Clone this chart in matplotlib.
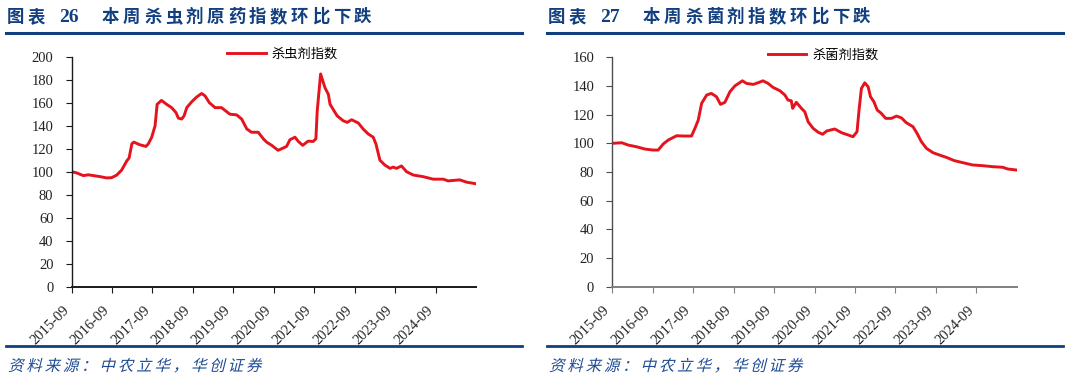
import matplotlib
matplotlib.use("Agg")
from matplotlib import pyplot as plt
from matplotlib.font_manager import FontProperties
from matplotlib.lines import Line2D
from matplotlib.patches import PathPatch
from matplotlib.textpath import TextPath
from matplotlib.transforms import Affine2D, IdentityTransform

W, H = 1066, 382

# months since 2015-09
ins_month = [0, 1.5, 3.5, 5.0, 6.5, 8.5, 10.4, 11.9, 13.4, 14.9,
             16.4, 17.1, 17.9, 18.5, 20.3, 22.1, 22.8, 23.8, 24.8, 25.4,
             26.7, 28.2, 29.7, 31.0, 31.7, 32.7, 33.4, 34.2, 35.6, 37.1,
             38.6, 39.6, 40.9, 42.6, 44.5, 47.0, 49.0, 50.5, 52.0, 53.4,
             55.4, 56.9, 57.9, 59.4, 61.3, 62.8, 63.8, 64.8, 66.3, 67.3,
             68.6, 70.2, 71.7, 72.5, 72.9, 73.9, 75.2, 76.2, 76.7, 77.6,
             78.8, 80.6, 81.8, 83.1, 85.1, 86.5, 88.0, 89.5, 90.3, 91.5,
             93.0, 94.5, 95.4, 96.4, 97.9, 99.4, 101.4, 104.3, 107.3, 110.3,
             111.7, 115.2, 117.2, 120.0]
ins_value = [100, 99, 96.6, 97.3, 96.6, 95.7, 94.6, 94.8, 97, 101.5,
             109.4, 112, 124.3, 125.7, 123.4, 122, 124.3, 130, 140, 158.6,
             162, 158.6, 155.7, 151.4, 146.6, 145.8, 148.6, 155.7, 160.6, 164.9,
             168, 166, 160, 155.7, 155.7, 150, 149.4, 145.7, 137.2, 134.3,
             134.3, 128.6, 125.7, 122.9, 118.6, 120.6, 122, 127.8, 130, 126.3,
             122.9, 126.6, 126.3, 128.6, 152.9, 185, 173, 167.3, 158.6, 154.3,
             148.6, 144.3, 142.9, 145.2, 142.3, 137.2, 132.9, 130, 124.3, 110,
             105.7, 102.9, 104, 102.9, 105, 100, 97.1, 95.7, 93.5, 93.5,
             92, 92.9, 90.9, 89.5]

fun_month = [0, 2.8, 4.7, 7.2, 9.7, 12.1, 13.6, 15.1, 16.6, 19.1,
             21.0, 23.5, 24.5, 25.5, 26.5, 28.0, 29.4, 30.9, 32.1, 33.4,
             34.9, 36.4, 38.6, 39.8, 41.8, 43.3, 44.7, 46.2, 47.7, 49.7,
             51.2, 52.1, 53.1, 53.5, 54.6, 56.1, 57.1, 58.1, 59.6, 61.1,
             62.4, 63.6, 66.0, 68.0, 70.0, 71.4, 72.6, 73.2, 73.9, 74.9,
             75.9, 76.6, 77.6, 78.6, 79.8, 81.1, 82.8, 84.3, 85.8, 87.2,
             89.2, 90.4, 91.7, 93.2, 95.1, 97.1, 99.1, 101.5, 104.0, 106.9,
             109.9, 112.9, 115.8, 117.3, 119.8]
fun_value = [100, 100.4, 98.8, 97.6, 96, 95.3, 95.3, 99.5, 102.3, 105.3,
             105.1, 105.1, 110.4, 116.2, 127.9, 133.7, 134.8, 132.5, 127.2, 128.6,
             136, 140.1, 143.6, 141.8, 141.1, 142.3, 143.6, 141.8, 139, 136.7,
             133.7, 130.2, 129.7, 124.4, 128.6, 124.4, 122, 115, 110.4, 107.7,
             106.3, 108.6, 110, 107.4, 105.8, 104.6, 108.1, 123.2, 138.3, 142.2,
             139.4, 132.5, 129, 123.2, 120.9, 117.4, 117.4, 119, 117.7, 114.4,
             111.6, 107, 101.1, 96.5, 93.5, 91.8, 90.2, 87.9, 86.5, 84.9,
             84.4, 83.7, 83.3, 82.1, 81.4]

tick_labels = ["2015-09", "2016-09", "2017-09", "2018-09", "2019-09",
               "2020-09", "2021-09", "2022-09", "2023-09", "2024-09"]

titles = ["本周杀虫剂原药指数环比下跌", "本周杀菌剂指数环比下跌"]
fig_nums = ["26", "27"]
legend_names = ["杀虫剂指数", "杀菌剂指数"]
source = "资料来源：中农立华，华创证券"

NAVY = "#123f80"
RED = "#e5131d"
CJK = "Noto Sans CJK SC"
SERIF = "Liberation Serif"

plt.rcParams["font.family"] = [CJK, "DejaVu Sans"]

fig = plt.figure(figsize=(W / 100, H / 100), dpi=100)


def px(x, y):
    """image pixel -> figure fraction"""
    return x / W, 1 - y / H


def spaced_text(x, y, s, size, pitch, **kw):
    # word-style letter spacing, one glyph at a time
    for i, ch in enumerate(s):
        fig.text(*px(x + i * pitch, y), ch, fontsize=size, ha="left", va="center", **kw)


def slanted_text(x, y, s, size_px, pitch, color):
    # fake italic for the source line
    fp = FontProperties(family=CJK, weight="light")
    for i, ch in enumerate(s):
        tp = TextPath((0, 0), ch, size=size_px, prop=fp)
        tr = Affine2D().skew_deg(14, 0).translate(x + i * pitch, H - y - size_px * 0.38)
        fig.add_artist(PathPatch(tp, transform=tr + IdentityTransform(),
                                 facecolor=color, edgecolor="none"))


def hline(x0, x1, y, lw):
    fig.add_artist(Line2D([x0 / W, x1 / W], [1 - y / H, 1 - y / H],
                          color=NAVY, lw=lw, transform=fig.transFigure))


panels = [
    dict(offset=0, ax_left=71.5, top_px=56.7, ylim=200, step=20,
         month=ins_month, value=ins_value, spine="#1a1a1a", bottom="#1a1a1a"),
    dict(offset=541, ax_left=612.3, top_px=57.3, ylim=160, step=20,
         month=fun_month, value=fun_value, spine="#4d4d4d", bottom="#808080"),
]

for i, p in enumerate(panels):
    off = p["offset"]

    # header
    spaced_text(7 + off, 17, "图表", 12.5, 21, color=NAVY, weight="bold")
    fig.text(*px(59 + off, 18), fig_nums[i], fontsize=14, family=SERIF,
             weight="bold", color=NAVY, ha="left", va="center")
    spaced_text(102 + off, 17, titles[i], 12.5, 21, color=NAVY, weight="bold")
    hline(6 + off, 522 + off, 32.5, 2.2)

    # footer
    hline(6 + off, 522 + off, 346, 2.0)
    slanted_text(8 + off, 365, source, 15.5, 18.3, "#1f4c94")

    # axes
    left, right = px(p["ax_left"], 0)[0], px(p["ax_left"] + 404.5, 0)[0]
    bottom = 1 - 286.7 / H
    top = 1 - p["top_px"] / H
    ax = fig.add_axes([left, bottom, right - left, top - bottom])

    ax.plot(p["month"], p["value"], color=RED, lw=2.1, solid_joinstyle="round",
            label=legend_names[i])

    ax.set_xlim(0, 120)
    ax.set_ylim(0, p["ylim"])
    ax.set_xticks(range(0, 120, 12))
    ax.set_xticklabels(tick_labels, rotation=45, ha="right",
                       family=SERIF, fontsize=10.5, color="#222222")
    ax.set_yticks(range(0, p["ylim"] + 1, p["step"]))
    ax.set_yticklabels([str(v) for v in range(0, p["ylim"] + 1, p["step"])],
                       family=SERIF, fontsize=10.5, color="#222222")
    ax.tick_params(axis="y", direction="out", length=4, width=0.8,
                   color=p["spine"], pad=9)
    ax.tick_params(axis="x", direction="out", length=4, width=0.8,
                   color=p["bottom"], pad=8)

    for side in ("top", "right"):
        ax.spines[side].set_visible(False)
    ax.spines["left"].set_color(p["spine"])
    ax.spines["bottom"].set_color(p["bottom"])
    ax.spines["left"].set_linewidth(1.0)
    ax.spines["bottom"].set_linewidth(1.4)

    ax.legend(loc="center", bbox_to_anchor=(0.522, 1.01), frameon=False,
              prop=FontProperties(family=CJK, size=9.5), handlelength=2.9,
              handletextpad=0.45, borderaxespad=0, borderpad=0)

fig.savefig("out.png", dpi=100)
